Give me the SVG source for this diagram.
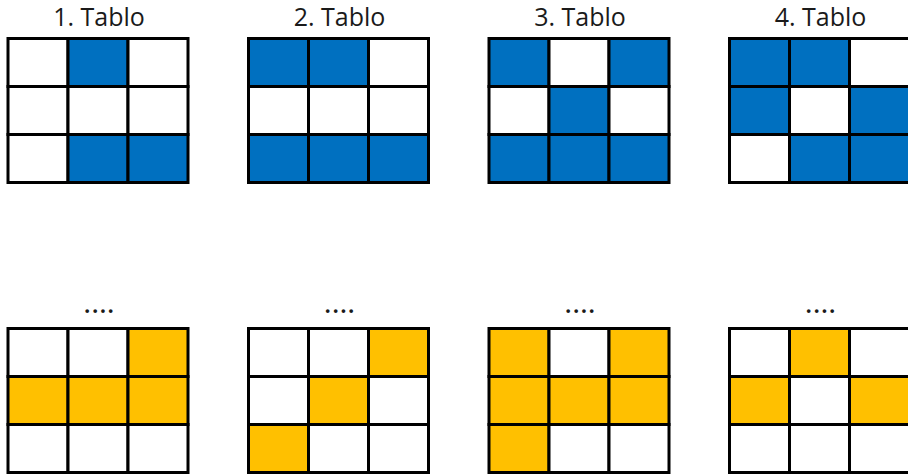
<svg xmlns="http://www.w3.org/2000/svg" width="908" height="474" viewBox="0 0 908 474">
<style>
  .c { fill: #ffffff; stroke: #000000; stroke-width: 3; }
  .b { fill: #0070C0; stroke: #000000; stroke-width: 3; }
  .y { fill: #FFC000; stroke: #000000; stroke-width: 3; }
  .t { font-family: "Open Sans", "Liberation Sans", sans-serif; font-size: 25px; fill: #1a1a1a; text-anchor: middle; }
  .d { font-family: "Open Sans", "Liberation Sans", sans-serif; font-size: 25px; font-weight: 600; fill: #1a1a1a; text-anchor: middle; letter-spacing: 1px; }
</style>
<rect x="0" y="0" width="908" height="474" fill="#ffffff"/>
<g id="table1">
  <text class="t" x="99" y="26">1. Tablo</text>
  <g transform="translate(8,38.5)">
    <rect class="c" x="0" y="0" width="60" height="48"/><rect class="b" x="60" y="0" width="60" height="48"/><rect class="c" x="120" y="0" width="60" height="48"/>
    <rect class="c" x="0" y="48" width="60" height="48"/><rect class="c" x="60" y="48" width="60" height="48"/><rect class="c" x="120" y="48" width="60" height="48"/>
    <rect class="c" x="0" y="96" width="60" height="48"/><rect class="b" x="60" y="96" width="60" height="48"/><rect class="b" x="120" y="96" width="60" height="48"/>
  </g>
</g>
<g id="table2">
  <text class="t" x="339.5" y="26">2. Tablo</text>
  <g transform="translate(248.5,38.5)">
    <rect class="b" x="0" y="0" width="60" height="48"/><rect class="b" x="60" y="0" width="60" height="48"/><rect class="c" x="120" y="0" width="60" height="48"/>
    <rect class="c" x="0" y="48" width="60" height="48"/><rect class="c" x="60" y="48" width="60" height="48"/><rect class="c" x="120" y="48" width="60" height="48"/>
    <rect class="b" x="0" y="96" width="60" height="48"/><rect class="b" x="60" y="96" width="60" height="48"/><rect class="b" x="120" y="96" width="60" height="48"/>
  </g>
</g>
<g id="table3">
  <text class="t" x="580" y="26">3. Tablo</text>
  <g transform="translate(489,38.5)">
    <rect class="b" x="0" y="0" width="60" height="48"/><rect class="c" x="60" y="0" width="60" height="48"/><rect class="b" x="120" y="0" width="60" height="48"/>
    <rect class="c" x="0" y="48" width="60" height="48"/><rect class="b" x="60" y="48" width="60" height="48"/><rect class="c" x="120" y="48" width="60" height="48"/>
    <rect class="b" x="0" y="96" width="60" height="48"/><rect class="b" x="60" y="96" width="60" height="48"/><rect class="b" x="120" y="96" width="60" height="48"/>
  </g>
</g>
<g id="table4">
  <text class="t" x="820.5" y="26">4. Tablo</text>
  <g transform="translate(729.5,38.5)">
    <rect class="b" x="0" y="0" width="60" height="48"/><rect class="b" x="60" y="0" width="60" height="48"/><rect class="c" x="120" y="0" width="60" height="48"/>
    <rect class="b" x="0" y="48" width="60" height="48"/><rect class="c" x="60" y="48" width="60" height="48"/><rect class="b" x="120" y="48" width="60" height="48"/>
    <rect class="c" x="0" y="96" width="60" height="48"/><rect class="b" x="60" y="96" width="60" height="48"/><rect class="b" x="120" y="96" width="60" height="48"/>
  </g>
</g>
<g id="table5">
  <text class="d" x="99.5" y="312.5">....</text>
  <g transform="translate(8,328.5)">
    <rect class="c" x="0" y="0" width="60" height="48"/><rect class="c" x="60" y="0" width="60" height="48"/><rect class="y" x="120" y="0" width="60" height="48"/>
    <rect class="y" x="0" y="48" width="60" height="48"/><rect class="y" x="60" y="48" width="60" height="48"/><rect class="y" x="120" y="48" width="60" height="48"/>
    <rect class="c" x="0" y="96" width="60" height="48"/><rect class="c" x="60" y="96" width="60" height="48"/><rect class="c" x="120" y="96" width="60" height="48"/>
  </g>
</g>
<g id="table6">
  <text class="d" x="340" y="312.5">....</text>
  <g transform="translate(248.5,328.5)">
    <rect class="c" x="0" y="0" width="60" height="48"/><rect class="c" x="60" y="0" width="60" height="48"/><rect class="y" x="120" y="0" width="60" height="48"/>
    <rect class="c" x="0" y="48" width="60" height="48"/><rect class="y" x="60" y="48" width="60" height="48"/><rect class="c" x="120" y="48" width="60" height="48"/>
    <rect class="y" x="0" y="96" width="60" height="48"/><rect class="c" x="60" y="96" width="60" height="48"/><rect class="c" x="120" y="96" width="60" height="48"/>
  </g>
</g>
<g id="table7">
  <text class="d" x="580.5" y="312.5">....</text>
  <g transform="translate(489,328.5)">
    <rect class="y" x="0" y="0" width="60" height="48"/><rect class="c" x="60" y="0" width="60" height="48"/><rect class="y" x="120" y="0" width="60" height="48"/>
    <rect class="y" x="0" y="48" width="60" height="48"/><rect class="y" x="60" y="48" width="60" height="48"/><rect class="y" x="120" y="48" width="60" height="48"/>
    <rect class="y" x="0" y="96" width="60" height="48"/><rect class="c" x="60" y="96" width="60" height="48"/><rect class="c" x="120" y="96" width="60" height="48"/>
  </g>
</g>
<g id="table8">
  <text class="d" x="821" y="312.5">....</text>
  <g transform="translate(729.5,328.5)">
    <rect class="c" x="0" y="0" width="60" height="48"/><rect class="y" x="60" y="0" width="60" height="48"/><rect class="c" x="120" y="0" width="60" height="48"/>
    <rect class="y" x="0" y="48" width="60" height="48"/><rect class="c" x="60" y="48" width="60" height="48"/><rect class="y" x="120" y="48" width="60" height="48"/>
    <rect class="c" x="0" y="96" width="60" height="48"/><rect class="c" x="60" y="96" width="60" height="48"/><rect class="c" x="120" y="96" width="60" height="48"/>
  </g>
</g>
<g id="connectors"></g>
</svg>
